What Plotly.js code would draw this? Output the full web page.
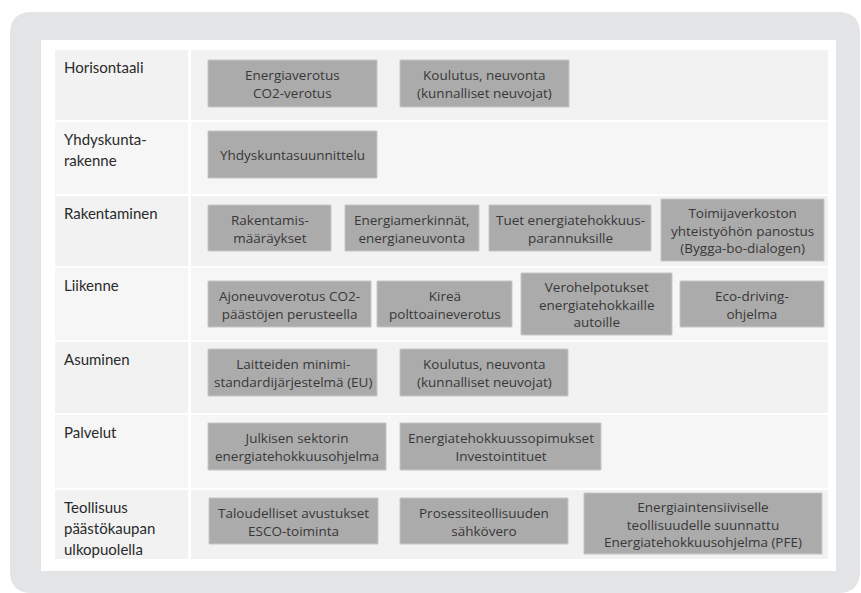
<!DOCTYPE html>
<html><head><meta charset="utf-8">
<script src="https://cdn.plot.ly/plotly-3.0.1.min.js"></script>
<style>html,body{margin:0;padding:0;background:#fff;}#chart{width:861px;height:593px;}</style>
</head><body><div id="chart"></div>
<script>
// ---- content (text) ----
const rowLabels = [
  ["Horisontaali"],
  ["Yhdyskunta-", "rakenne"],
  ["Rakentaminen"],
  ["Liikenne"],
  ["Asuminen"],
  ["Palvelut"],
  ["Teollisuus", "päästökaupan", "ulkopuolella"]
];
const boxTexts = [
  [["Energiaverotus", "CO2-verotus"], ["Koulutus, neuvonta", "(kunnalliset neuvojat)"]],
  [["Yhdyskuntasuunnittelu"]],
  [["Rakentamis-", "määräykset"], ["Energiamerkinnät,", "energianeuvonta"], ["Tuet energiatehokkuus-", "parannuksille"], ["Toimijaverkoston", "yhteistyöhön panostus", "(Bygga-bo-dialogen)"]],
  [["Ajoneuvoverotus CO2-", "päästöjen perusteella"], ["Kireä", "polttoaineverotus"], ["Verohelpotukset", "energiatehokkaille", "autoille"], ["Eco-driving-", "ohjelma"]],
  [["Laitteiden minimi-", "standardijärjestelmä (EU)"], ["Koulutus, neuvonta", "(kunnalliset neuvojat)"]],
  [["Julkisen sektorin", "energiatehokkuusohjelma"], ["Energiatehokkuussopimukset", "Investointituet"]],
  [["Taloudelliset avustukset", "ESCO-toiminta"], ["Prosessiteollisuuden", "sähkövero"], ["Energiaintensiiviselle", "teollisuudelle suunnattu", "Energiatehokkuusohjelma (PFE)"]]
];

// ---- geometry (layout of the diagram, in page pixels) ----
const rowTops = [50, 122, 196, 268, 342, 415, 490];
const rowBottoms = [120, 194, 266, 340, 413, 488, 559];
const boxX0 = [[208, 400], [208], [208, 345, 489, 661], [208, 377, 521, 680], [208, 400], [208, 400], [209, 400, 584]];
const boxX1 = [[377, 569], [377], [331, 479, 651, 824], [371, 512, 672, 824], [377, 568], [386, 601], [378, 568, 822]];
const boxY0 = [[60, 60], [131], [205, 205, 205, 199], [281, 281, 273, 281], [349, 349], [423, 423], [498, 498, 493]];
const boxY1 = [[107, 107], [178], [251, 251, 251, 261], [327, 327, 335, 327], [396, 396], [470, 470], [544, 544, 554]];

const LABEL_FONT = "Lato, 'Open Sans', sans-serif";
const BOX_FONT = "'Open Sans', Lato, sans-serif";
const shapes = [];
const annotations = [];

// outer rounded panel
const r = 22, L = 10, T = 12, R = 860, B = 593;
shapes.push({type: "path", xref: "x", yref: "y", layer: "below",
  path: `M ${L+r},${T} L ${R-r},${T} Q ${R},${T} ${R},${T+r} L ${R},${B-r} Q ${R},${B} ${R-r},${B} L ${L+r},${B} Q ${L},${B} ${L},${B-r} L ${L},${T+r} Q ${L},${T} ${L+r},${T} Z`,
  fillcolor: "#e3e4e6", line: {width: 0}});
// white inner panel
shapes.push({type: "rect", xref: "x", yref: "y", layer: "below", x0: 41, x1: 836, y0: 40, y1: 571,
  fillcolor: "#ffffff", line: {width: 0}});

rowLabels.forEach((lines, i) => {
  const fill = i % 2 === 0 ? "#f2f2f2" : "#f6f6f6";
  shapes.push({type: "rect", xref: "x", yref: "y", layer: "below", x0: 55, x1: 188, y0: rowTops[i], y1: rowBottoms[i], fillcolor: fill, line: {width: 0}});
  shapes.push({type: "rect", xref: "x", yref: "y", layer: "below", x0: 191, x1: 828, y0: rowTops[i], y1: rowBottoms[i], fillcolor: fill, line: {width: 0}});
  lines.forEach((t, k) => {
    annotations.push({xref: "x", yref: "y", x: 62, y: rowTops[i] + 17 + k * 21, text: t, showarrow: false,
      xanchor: "left", yanchor: "middle", font: {family: LABEL_FONT, size: 15, color: "#2a2a2a"}});
  });
  boxTexts[i].forEach((bl, j) => {
    const x0 = boxX0[i][j], x1 = boxX1[i][j], y0 = boxY0[i][j], y1 = boxY1[i][j];
    shapes.push({type: "rect", xref: "x", yref: "y", layer: "below", x0, x1, y0, y1,
      fillcolor: "#ababab", line: {color: "#c6c6c6", width: 1}});
    annotations.push({xref: "x", yref: "y", x: (x0 + x1) / 2, y: (y0 + y1) / 2 + 0.5, text: bl.join("<br>"), showarrow: false,
      xanchor: "center", yanchor: "middle", align: "center",
      font: {family: BOX_FONT, size: 13.5, color: "#383838"}});
  });
});

const layout = {
  width: 861, height: 593,
  margin: {l: 0, r: 0, t: 0, b: 0, pad: 0},
  paper_bgcolor: "#ffffff", plot_bgcolor: "#ffffff",
  showlegend: false,
  xaxis: {range: [0, 861], visible: false, fixedrange: true},
  yaxis: {range: [593, 0], visible: false, fixedrange: true},
  shapes, annotations
};
Plotly.newPlot("chart", [{x: [], y: [], type: "scatter", mode: "markers", hoverinfo: "skip"}], layout, {staticPlot: true, displayModeBar: false});
</script></body></html>
